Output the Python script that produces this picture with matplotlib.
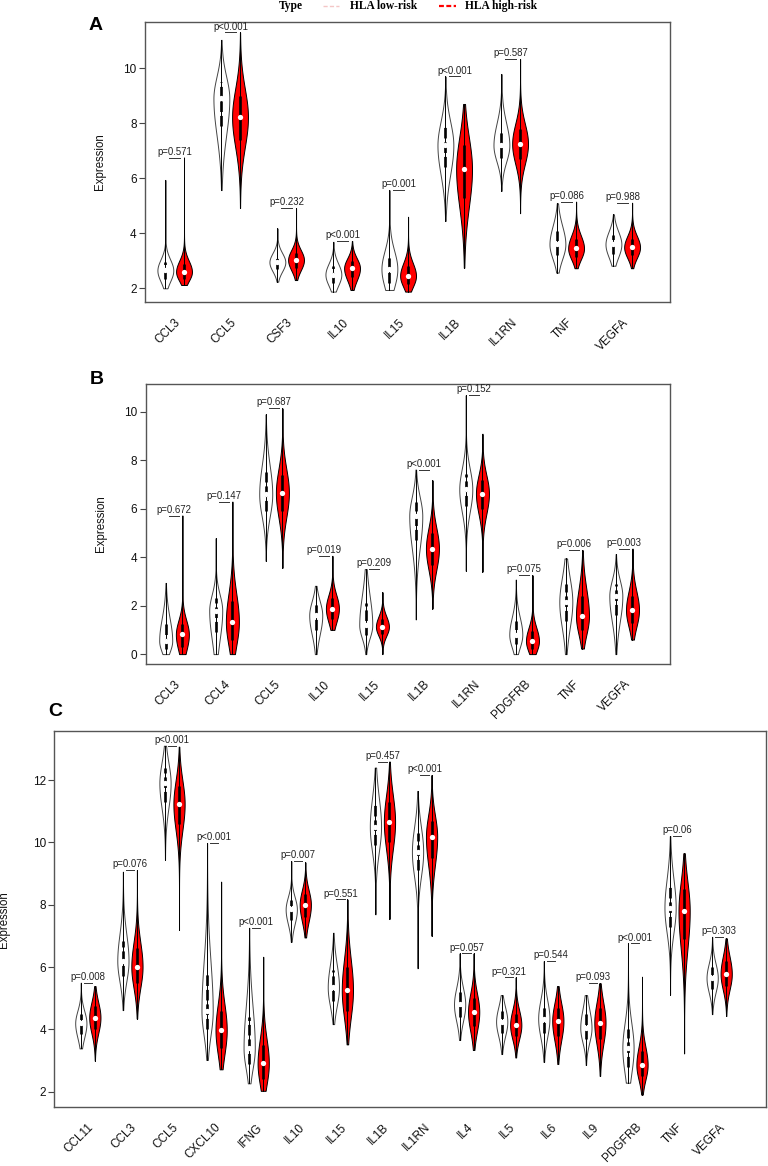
import numpy as np
import matplotlib
matplotlib.use("Agg")
import matplotlib.pyplot as plt
from matplotlib.lines import Line2D

plt.rcParams['font.family'] = ['Liberation Sans', 'DejaVu Sans']

# values: (min, q1, median, q3, max) per violin
a_genes = ["CCL3", "CCL5", "CSF3", "IL10", "IL15", "IL1B", "IL1RN", "TNF", "VEGFA"]
a_pvals = ["p=0.571", "p<0.001", "p=0.232", "p<0.001", "p=0.001", "p<0.001",
           "p=0.587", "p=0.086", "p=0.988"]
a_low = [(2.0, 2.35, 2.65, 2.95, 5.94), (5.57, 7.9, 8.9, 9.5, 11.03),
         (2.24, 2.7, 2.95, 3.2, 4.18), (1.88, 2.2, 2.5, 2.8, 3.69),
         (1.94, 2.2, 2.7, 3.2, 5.57), (4.45, 6.4, 7.2, 7.85, 9.7),
         (5.54, 6.75, 7.2, 7.8, 9.79), (2.57, 3.2, 3.6, 4.1, 5.09),
         (2.82, 3.25, 3.6, 3.95, 4.69)]
a_high = [(2.12, 2.35, 2.6, 2.9, 6.75), (4.92, 7.4, 8.22, 9.0, 11.3),
          (2.3, 2.75, 3.03, 3.3, 4.91), (1.94, 2.4, 2.73, 3.0, 3.72),
          (1.88, 2.15, 2.45, 2.8, 4.6), (2.75, 5.3, 6.33, 7.2, 8.7),
          (4.73, 6.7, 7.25, 7.8, 10.33), (2.73, 3.15, 3.45, 3.8, 5.15),
          (2.73, 3.2, 3.49, 3.8, 5.11)]

b_genes = ["CCL3", "CCL4", "CCL5", "IL10", "IL15", "IL1B", "IL1RN", "PDGFRB", "TNF", "VEGFA"]
b_pvals = ["p=0.672", "p=0.147", "p=0.687", "p=0.019", "p=0.209", "p<0.001",
           "p=0.152", "p=0.075", "p=0.006", "p=0.003"]
b_low = [(0, 0.2, 0.55, 1.25, 2.94), (0, 0.9, 1.8, 2.3, 4.79),
         (3.85, 5.9, 6.6, 7.5, 9.9), (0, 1.0, 1.6, 2.05, 2.82),
         (0, 0.8, 1.2, 2.1, 3.51), (1.43, 4.7, 5.7, 6.3, 7.62),
         (3.44, 6.1, 6.8, 7.45, 10.69), (0, 0.4, 0.8, 1.35, 3.08),
         (0, 1.35, 2.15, 2.9, 3.95), (0, 1.6, 2.4, 2.9, 4.13)]
b_high = [(0, 0.3, 0.81, 1.25, 5.72), (0, 0.6, 1.33, 2.2, 6.3),
          (3.56, 5.9, 6.66, 7.4, 10.15), (1.0, 1.45, 1.88, 2.3, 4.06),
          (0, 0.85, 1.13, 1.45, 2.56), (1.88, 3.7, 4.36, 5.0, 7.18),
          (3.4, 6.0, 6.63, 7.2, 9.1), (0, 0.2, 0.54, 0.95, 3.26),
          (0.23, 1.0, 1.57, 2.4, 4.29), (0.6, 1.3, 1.82, 2.4, 4.36)]

c_genes = ["CCL11", "CCL3", "CCL5", "CXCL10", "IFNG", "IL10", "IL15", "IL1B", "IL1RN",
           "IL4", "IL5", "IL6", "IL9", "PDGFRB", "TNF", "VEGFA"]
c_pvals = ["p=0.008", "p=0.076", "p<0.001", "p<0.001", "p<0.001", "p=0.007", "p=0.551",
           "p=0.457", "p<0.001", "p=0.057", "p=0.321", "p=0.544", "p=0.093", "p<0.001",
           "p=0.06", "p=0.303"]
c_low = [(3.39, 3.85, 4.2, 4.5, 5.5), (4.62, 5.7, 6.2, 6.85, 9.06),
         (9.45, 11.3, 11.9, 12.4, 13.1), (3.02, 4.0, 4.6, 5.8, 9.98),
         (2.27, 2.9, 3.4, 4.4, 7.26), (6.81, 7.5, 7.85, 8.15, 9.4),
         (4.17, 4.9, 5.35, 5.9, 7.1), (7.69, 9.9, 10.5, 11.2, 12.4),
         (5.96, 9.1, 9.7, 10.3, 11.65), (3.66, 4.4, 4.8, 5.2, 6.44),
         (3.21, 3.9, 4.25, 4.6, 5.1), (2.96, 3.9, 4.35, 4.8, 6.19),
         (2.86, 3.7, 4.05, 4.5, 5.1), (2.29, 2.8, 3.4, 4.0, 6.76),
         (5.12, 7.3, 7.9, 8.6, 10.2), (4.49, 5.3, 5.65, 6.0, 6.97)]
c_high = [(3.0, 4.0, 4.38, 4.75, 5.39), (4.35, 5.5, 6.01, 6.6, 9.11),
          (7.19, 10.6, 11.23, 11.8, 13.07), (2.72, 3.4, 3.98, 4.6, 8.74),
          (2.03, 2.4, 2.91, 3.5, 6.33), (6.95, 7.6, 8.0, 8.35, 9.36),
          (3.52, 4.6, 5.26, 6.0, 8.17), (7.54, 10.0, 10.66, 11.3, 12.59),
          (7.0, 9.5, 10.18, 10.7, 12.16), (3.34, 4.1, 4.56, 5.0, 6.44),
          (3.1, 3.8, 4.14, 4.5, 5.67), (2.89, 3.8, 4.27, 4.7, 5.39),
          (2.51, 3.7, 4.22, 4.7, 5.48), (1.91, 2.5, 2.86, 3.3, 5.69),
          (3.23, 6.9, 7.8, 8.5, 9.65), (4.43, 5.4, 5.78, 6.2, 6.92)]


def violin_stats(s):
    # smooth outline built from the five summary numbers
    lo, q1, med, q3, hi = s
    ys = np.linspace(lo, hi, 240)
    sd = np.where(ys < med, (med - q1) / 0.75, (q3 - med) / 0.75)
    vals = np.exp(-0.5 * ((ys - med) / sd) ** 2)
    return dict(coords=ys, vals=vals, mean=med, median=med, min=lo, max=hi)


def draw_panel(ax, genes, pvals, low, high, width, xlim, ylim, yticks, ylab_x):
    pos_low = [3 * i + 1 for i in range(len(genes))]
    pos_high = [3 * i + 2 for i in range(len(genes))]

    for stats, pos, face, edge in [(low, pos_low, "white", "#444444"),
                                   (high, pos_high, "#ff0000", "black")]:
        parts = ax.violin([violin_stats(s) for s in stats], positions=pos, widths=width,
                          showmeans=False, showextrema=False, showmedians=False)
        for body in parts["bodies"]:
            body.set_facecolor(face)
            body.set_edgecolor(edge)
            body.set_linewidth(0.7)
            body.set_alpha(1)
        for s, x in zip(stats, pos):
            lo, q1, med, q3, hi = s
            ax.plot([x, x], [lo, hi], color="black", lw=0.7, zorder=3)
            if face == "white":
                ax.plot([x, x], [q1, q3], color="black", lw=1.9, zorder=4,
                        ls=(0, (4, 1.5)), solid_capstyle="butt")
            else:
                ax.plot([x, x], [q1, q3], color="black", lw=1.9, zorder=4,
                        solid_capstyle="butt")
            ax.plot([x], [med], "o", color="white", ms=3.8, mew=0, zorder=5)

    for i, p in enumerate(pvals):
        top = max(low[i][4], high[i][4])
        x = pos_low[i]
        ax.plot([x + 0.2, x + 0.8], [top, top], color="#333333", lw=0.7)
        ax.annotate(p, (x + 0.5, top), xytext=(0, 0.6), textcoords="offset points",
                    ha="center", va="bottom", fontsize=6.9, color="#222222")

    ax.set_xlim(*xlim)
    ax.set_ylim(*ylim)
    ax.set_yticks(yticks)
    ax.set_xticks([3 * i + 1.5 for i in range(len(genes))])
    ax.set_xticklabels(genes, rotation=45, ha="right", rotation_mode="anchor")
    ax.tick_params(axis="x", length=0, pad=10, labelsize=8.5, labelcolor="#111111")
    ax.tick_params(axis="y", length=4, width=0.8, color="#444444", labelsize=8.5,
                   labelcolor="#111111", pad=2)
    for sp in ax.spines.values():
        sp.set_color("#555555")
        sp.set_linewidth(1.0)
    ax.set_ylabel("Expression", fontsize=8.3, color="#111111")
    ax.yaxis.set_label_coords(ylab_x, 0.5)


fig = plt.figure(figsize=(7.68, 11.66), dpi=100)
ax_a = fig.add_axes([0.1888, 0.7407, 0.6836, 0.2407])
ax_b = fig.add_axes([0.1897, 0.4305, 0.6827, 0.2401])
ax_c = fig.add_axes([0.0707, 0.0503, 0.9271, 0.3227])

draw_panel(ax_a, a_genes, a_pvals, a_low, a_high, 0.85, (-0.09, 28.03), (1.49, 11.69),
           [2, 4, 6, 8, 10], -0.074)
draw_panel(ax_b, b_genes, b_pvals, b_low, b_high, 0.78, (-0.2, 31.25), (-0.41, 11.15),
           [0, 2, 4, 6, 8, 10], -0.074)
draw_panel(ax_c, c_genes, c_pvals, c_low, c_high, 0.8, (-0.89, 49.86), (1.50, 13.57),
           [2, 4, 6, 8, 10, 12], -0.062)

# panel letters
for letter, x, y in [("A", 96, 25), ("B", 97, 380), ("C", 55.5, 712)]:
    fig.text(x / 768, 1 - y / 1166, letter, fontsize=14, fontweight="bold",
             ha="center", va="center")

# legend strip at the top
H = 1166
serif = ["Liberation Serif", "DejaVu Serif"]
ly = 1 - 6 / H
fig.text(279 / 768, ly, "Type", family=serif, fontweight="bold", fontsize=8.3,
         ha="left", va="center")
fig.add_artist(Line2D([323 / 768, 339 / 768], [1 - 5.5 / H] * 2, color="#f4c6c6",
                      lw=1.0, ls=(0, (3, 1.6))))
fig.text(350 / 768, ly, "HLA low-risk", family=serif, fontweight="bold", fontsize=8.3,
         ha="left", va="center")
fig.add_artist(Line2D([439 / 768, 456 / 768], [1 - 5.5 / H] * 2, color="#ff0000",
                      lw=1.6, ls=(0, (2.2, 1.1))))
fig.text(465 / 768, ly, "HLA high-risk", family=serif, fontweight="bold", fontsize=8.3,
         ha="left", va="center")

fig.savefig("out.png", dpi=100)
